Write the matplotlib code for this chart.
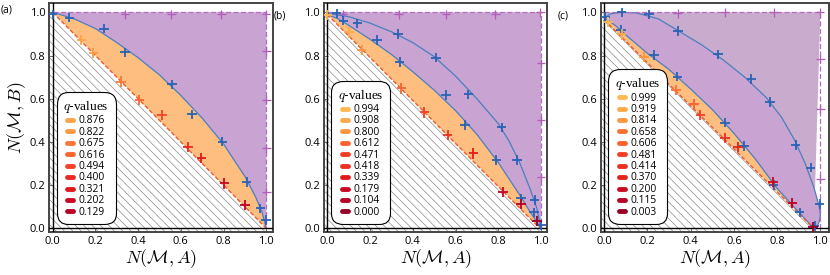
import numpy as np
import matplotlib.pyplot as plt
from matplotlib.lines import Line2D

plt.rcParams['mathtext.fontset'] = 'cm'
plt.rcParams['font.family'] = ['Open Sans', 'DejaVu Sans']
plt.rcParams['hatch.color'] = '#8a8a8a'
plt.rcParams['hatch.linewidth'] = 0.5

# --- panel (a) ---
a_curve_x = [0.0, 0.1, 0.2, 0.3, 0.4, 0.5, 0.6, 0.7, 0.8, 0.9, 0.95, 0.98, 1.0]
a_curve_y = [1.0, 0.97, 0.925, 0.86, 0.79, 0.71, 0.615, 0.51, 0.39, 0.24, 0.145, 0.075, 0.0]
a_line = [(0.0, 1.0), (1.0, 0.0)]
a_blue_x = [0.00, 0.078, 0.241, 0.339, 0.559, 0.652, 0.794, 0.908, 0.972, 0.999]
a_blue_y = [0.99, 0.975, 0.924, 0.815, 0.667, 0.528, 0.401, 0.214, 0.093, 0.038]
a_orange_x = [0.134, 0.191, 0.32, 0.405, 0.512, 0.633, 0.696, 0.804, 0.90]
a_orange_y = [0.872, 0.813, 0.679, 0.594, 0.525, 0.378, 0.327, 0.208, 0.108]
a_q = [0.876, 0.822, 0.675, 0.616, 0.494, 0.400, 0.321, 0.202, 0.129]
a_purple_x = [0.339, 0.556, 0.789, 0.998, 1.0, 1.0, 1.0, 1.0]
a_purple_y = [0.99, 0.99, 0.99, 0.99, 0.822, 0.594, 0.37, 0.17]

# --- panel (b) ---
b_inner_x = [0.0, 0.05, 0.1, 0.2, 0.3, 0.4, 0.5, 0.6, 0.7, 0.8, 0.9, 0.95, 1.0]
b_inner_y = [0.99, 0.97, 0.94, 0.875, 0.805, 0.725, 0.64, 0.545, 0.435, 0.305, 0.155, 0.075, 0.0]
b_outer_x = [0.0, 0.1, 0.2, 0.3, 0.4, 0.5, 0.6, 0.7, 0.8, 0.85, 0.9, 0.95, 0.98, 1.0]
b_outer_y = [0.995, 0.98, 0.95, 0.91, 0.86, 0.795, 0.705, 0.6, 0.485, 0.405, 0.305, 0.18, 0.095, 0.0]
b_line = [(0.0, 0.99), (0.995, 0.0)]
b_blue_x = [0.044, 0.075, 0.141, 0.233, 0.33, 0.338, 0.509, 0.555, 0.645, 0.66,
            0.791, 0.816, 0.888, 0.907, 0.971, 0.967, 1.0]
b_blue_y = [0.995, 0.961, 0.949, 0.872, 0.9, 0.771, 0.79, 0.617, 0.478, 0.62,
            0.316, 0.468, 0.316, 0.139, 0.131, 0.074, 0.015]
b_orange_x = [0.0, 0.101, 0.16, 0.346, 0.454, 0.563, 0.684, 0.822, 0.907, 0.981]
b_orange_y = [0.987, 0.907, 0.825, 0.648, 0.537, 0.432, 0.347, 0.167, 0.112, 0.035]
b_q = [0.994, 0.908, 0.800, 0.612, 0.471, 0.418, 0.339, 0.179, 0.104, 0.000]
b_purple_x = [0.074, 0.334, 0.555, 0.786, 0.997, 1.0, 1.0, 1.0]
b_purple_y = [0.99, 0.99, 0.99, 0.99, 1.0, 0.764, 0.501, 0.236]

# --- panel (c) ---
c_inner_x = [0.0, 0.05, 0.1, 0.2, 0.3, 0.4, 0.5, 0.6, 0.7, 0.8, 0.9, 0.97]
c_inner_y = [0.975, 0.94, 0.895, 0.81, 0.735, 0.645, 0.55, 0.44, 0.32, 0.185, 0.075, 0.0]
c_outer_x = [0.0, 0.03, 0.08, 0.15, 0.25, 0.35, 0.45, 0.55, 0.65, 0.75, 0.82, 0.88,
             0.93, 0.97, 0.995, 1.0, 0.995, 0.98]
c_outer_y = [0.975, 0.993, 1.0, 0.997, 0.97, 0.91, 0.85, 0.78, 0.7, 0.605, 0.515, 0.41,
             0.30, 0.19, 0.10, 0.06, 0.03, 0.0]
c_line = [(0.0, 0.965), (0.97, 0.0)]
c_blue_x = [0.003, 0.08, 0.077, 0.208, 0.23, 0.342, 0.338, 0.527, 0.558, 0.647, 0.681,
            0.766, 0.784, 0.886, 0.904, 0.955, 0.997, 0.974]
c_blue_y = [0.98, 1.0, 0.918, 0.99, 0.802, 0.913, 0.702, 0.805, 0.489, 0.381, 0.691,
            0.586, 0.2, 0.386, 0.074, 0.281, 0.112, 0.01]
c_orange_x = [0.018, 0.08, 0.183, 0.331, 0.416, 0.445, 0.558, 0.619, 0.781, 0.871, 0.966]
c_orange_y = [0.954, 0.898, 0.795, 0.64, 0.574, 0.525, 0.417, 0.378, 0.216, 0.116, 0.007]
c_q = [0.999, 0.919, 0.814, 0.658, 0.606, 0.481, 0.414, 0.370, 0.200, 0.115, 0.003]
c_purple_x = [0.34, 0.558, 0.784, 0.999, 1.0, 1.0, 1.0]
c_purple_y = [0.995, 1.0, 1.0, 1.0, 0.784, 0.552, 0.228]

ticks = [0.0, 0.2, 0.4, 0.6, 0.8, 1.0]

PURPLE = '#c9a3d2'
PURPLE2 = '#c8abcd'
ORANGE = '#fdbe80'
BLUE_LINE = '#4a7fc0'
BLUE = '#2a62b5'
MAGENTA = '#b25bb8'
cmap = plt.get_cmap('YlOrRd')


def qcolor(q):
    return cmap(0.35 + 0.6 * (1 - q))


def panel(ax, line, inner_x, inner_y, blue_x, blue_y, orange_x, orange_y, qs,
          purple_x, purple_y, outer_x=None, outer_y=None, two_tone=False):
    (x0, y0), (x1, y1) = line
    # hatched region under the lower line
    hx = [-0.1, -0.1, x0, x1, x1]
    hy = [-0.1, y0, y0, y1, -0.1]
    ax.fill(hx, hy, facecolor='white', edgecolor='#8a8a8a', hatch='\\\\\\\\', lw=0, zorder=1)
    # orange band
    ox = list(inner_x) + [x1, x0]
    oy = list(inner_y) + [y1, y0]
    ax.fill(ox, oy, color=ORANGE, lw=0, zorder=2)
    # purple region
    px = list(inner_x) + [1.0, 0.0]
    py = list(inner_y) + [1.0, 1.0]
    ax.fill(px, py, color=PURPLE2 if two_tone else PURPLE, lw=0, zorder=2)
    if outer_x is not None:
        if two_tone:
            bx = list(inner_x) + list(outer_x)[::-1]
            by = list(inner_y) + list(outer_y)[::-1]
            ax.fill(bx, by, color=PURPLE, lw=0, zorder=2)
        ax.plot(outer_x, outer_y, color=BLUE_LINE, lw=0.9, zorder=3)
    ax.plot(inner_x, inner_y, color=BLUE_LINE, lw=0.9, zorder=3)
    ax.plot([x0, x1], [y0, y1], color='#ee5a2a', lw=1.0, ls=(0, (3, 1.5)), zorder=3)
    ax.plot([0, 1, 1], [1, 1, 0], color='#b46cc0', lw=0.9, ls=(0, (4, 2)), zorder=3)
    ax.axhline(0, color='black', lw=1.0, zorder=4)
    ax.axvline(0, color='black', lw=1.0, zorder=4)

    ax.errorbar(purple_x, purple_y, xerr=0.02, yerr=0.02, fmt='none',
                ecolor=MAGENTA, elinewidth=0.9, zorder=5)
    ax.errorbar(blue_x, blue_y, xerr=0.022, yerr=0.022, fmt='none',
                ecolor=BLUE, elinewidth=1.3, zorder=6)
    for x, y, q in zip(orange_x, orange_y, qs):
        ax.errorbar([x], [y], xerr=0.022, yerr=0.024, fmt='none',
                    ecolor=qcolor(q), elinewidth=1.3, zorder=6)

    handles = [Line2D([0], [0], color=qcolor(q), lw=3.5, solid_capstyle='round')
               for q in qs]
    labels = ['%.3f' % q for q in qs]
    leg = ax.legend(handles, labels, title=r'$q$-values', loc='lower left',
                    bbox_to_anchor=(0.035, 0.035), fontsize=7.4, handlelength=0.6,
                    handleheight=0.5, handletextpad=0.55, labelspacing=0.04,
                    borderpad=0.4, borderaxespad=0.2,
                    fancybox=True, framealpha=1, edgecolor='black')
    leg.get_frame().set_linewidth(0.8)
    leg.get_frame().set_boxstyle('round,pad=0.25,rounding_size=1.1')
    leg.get_title().set_fontfamily('Liberation Serif')
    leg.get_title().set_fontsize(9.5)
    leg.set_zorder(10)

    ax.set_ylim(-0.016, 1.043)
    ax.set_xticks(ticks)
    ax.set_yticks(ticks)
    ax.set_xticklabels(['%.1f' % t for t in ticks])
    ax.set_yticklabels(['%.1f' % t for t in ticks])
    ax.tick_params(direction='in', length=3, width=0.6, color='#555555',
                   labelsize=8, pad=3)
    for s in ax.spines.values():
        s.set_color('#444444')
        s.set_linewidth(1.4)
    ax.set_xlabel(r'$N(\mathcal{M}, A)$', fontsize=13, labelpad=0)


fig = plt.figure(figsize=(8.3, 2.75), dpi=100)
ax_a = fig.add_axes([0.0596, 0.157, 0.269, 0.832])
ax_b = fig.add_axes([0.3905, 0.157, 0.269, 0.832])
ax_c = fig.add_axes([0.7241, 0.157, 0.2747, 0.832])

panel(ax_a, a_line, a_curve_x, a_curve_y, a_blue_x, a_blue_y, a_orange_x, a_orange_y,
      a_q, a_purple_x, a_purple_y)
ax_a.set_xlim(-0.015, 1.03)
ax_a.set_ylabel(r'$N(\mathcal{M}, B)$', fontsize=13, labelpad=1)

panel(ax_b, b_line, b_inner_x, b_inner_y, b_blue_x, b_blue_y, b_orange_x, b_orange_y,
      b_q, b_purple_x, b_purple_y, b_outer_x, b_outer_y)
ax_b.set_xlim(-0.015, 1.03)

panel(ax_c, c_line, c_inner_x, c_inner_y, c_blue_x, c_blue_y, c_orange_x, c_orange_y,
      c_q, c_purple_x, c_purple_y, c_outer_x, c_outer_y, two_tone=True)
ax_c.set_xlim(-0.015, 1.04)

fig.text(0.001, 0.985, '(a)', fontsize=7.5, va='top', ha='left')
fig.text(0.337, 0.96, '(b)', fontsize=7.5, va='top', ha='center')
fig.text(0.678, 0.96, '(c)', fontsize=7.5, va='top', ha='center')

fig.savefig('out.png', dpi=100)
